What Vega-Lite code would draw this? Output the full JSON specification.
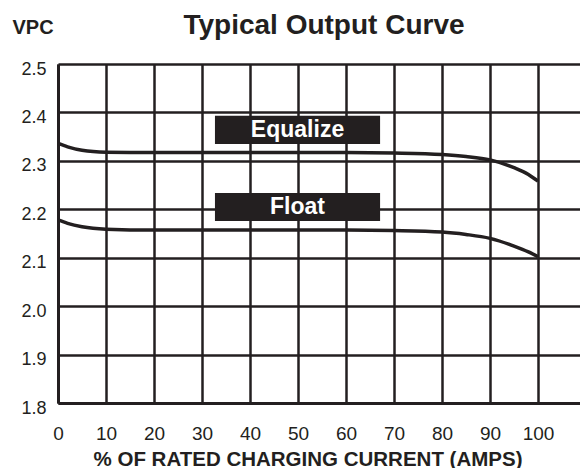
{
  "$schema": "https://vega.github.io/schema/vega-lite/v6.json",
  "width": 528,
  "height": 339,
  "autosize": {"type": "none"},
  "padding": {"left": 58, "top": 64, "right": 0, "bottom": 65},
  "background": "white",
  "title": {"text": "Typical Output Curve", "font": "Liberation Sans", "fontSize": 28, "fontWeight": "bold", "color": "#231f20", "anchor": "middle", "frame": "group", "baseline": "alphabetic", "offset": 0, "dx": 2, "dy": 45},
  "config": {"view": {"stroke": null}, "font": "Liberation Sans"},
  "datasets": {
    "curves": [
      {"series": "Equalize", "x": 0, "v": 2.336},
      {"series": "Equalize", "x": 2, "v": 2.329},
      {"series": "Equalize", "x": 5, "v": 2.322},
      {"series": "Equalize", "x": 10, "v": 2.318},
      {"series": "Equalize", "x": 20, "v": 2.317},
      {"series": "Equalize", "x": 40, "v": 2.317},
      {"series": "Equalize", "x": 60, "v": 2.317},
      {"series": "Equalize", "x": 70, "v": 2.316},
      {"series": "Equalize", "x": 80, "v": 2.313},
      {"series": "Equalize", "x": 85, "v": 2.309},
      {"series": "Equalize", "x": 90, "v": 2.302},
      {"series": "Equalize", "x": 95, "v": 2.286},
      {"series": "Equalize", "x": 98, "v": 2.272},
      {"series": "Equalize", "x": 100, "v": 2.258},
      {"series": "Float", "x": 0, "v": 2.178},
      {"series": "Float", "x": 2, "v": 2.171},
      {"series": "Float", "x": 5, "v": 2.164},
      {"series": "Float", "x": 10, "v": 2.159},
      {"series": "Float", "x": 20, "v": 2.157},
      {"series": "Float", "x": 40, "v": 2.157},
      {"series": "Float", "x": 60, "v": 2.157},
      {"series": "Float", "x": 70, "v": 2.156},
      {"series": "Float", "x": 80, "v": 2.153},
      {"series": "Float", "x": 85, "v": 2.148},
      {"series": "Float", "x": 90, "v": 2.140},
      {"series": "Float", "x": 95, "v": 2.124},
      {"series": "Float", "x": 98, "v": 2.112},
      {"series": "Float", "x": 100, "v": 2.102}
    ],
    "boxes": [
      {"label": "Equalize", "x": 32.7, "x2": 67.1, "v": 2.335, "v2": 2.393},
      {"label": "Float", "x": 32.7, "x2": 67.1, "v": 2.176, "v2": 2.2335}
    ],
    "labels": [
      {"label": "Equalize", "x": 49.9, "v": 2.364},
      {"label": "Float", "x": 49.9, "v": 2.205}
    ]
  },
  "encoding": {
    "x": {
      "field": "x", "type": "quantitative",
      "scale": {"domain": [0, 110], "nice": false, "zero": false},
      "axis": {
        "values": [0, 10, 20, 30, 40, 50, 60, 70, 80, 90, 100],
        "grid": true, "gridColor": "#231f20", "gridWidth": 2.5, "gridOpacity": 1,
        "domain": true, "domainColor": "#231f20", "domainWidth": 3,
        "ticks": false, "labelFlush": false, "labelOverlap": false,
        "labelFont": "Liberation Sans", "labelFontSize": 19, "labelColor": "#231f20",
        "labelPadding": 36, "labelBaseline": "alphabetic",
        "title": "% OF RATED CHARGING CURRENT (AMPS)",
        "titleFont": "Liberation Sans", "titleFontSize": 20.5, "titleFontWeight": "bold", "titleColor": "#231f20",
        "titleX": 249.5, "titleY": 62, "titleAlign": "center", "titleBaseline": "alphabetic"
      }
    },
    "y": {
      "field": "v", "type": "quantitative",
      "scale": {"domain": [1.8, 2.5], "nice": false, "zero": false},
      "axis": {
        "values": [1.8, 1.9, 2.0, 2.1, 2.2, 2.3, 2.4, 2.5],
        "format": ".1f",
        "grid": true, "gridColor": "#231f20", "gridWidth": 2.5, "gridOpacity": 1,
        "domain": true, "domainColor": "#231f20", "domainWidth": 3,
        "ticks": false, "labelFlush": false, "labelOverlap": false,
        "labelFont": "Liberation Sans", "labelFontSize": 18, "labelColor": "#231f20",
        "labelPadding": 12, "labelBaseline": "middle", "labelOffset": 5,
        "title": "VPC",
        "titleFont": "Liberation Sans", "titleFontSize": 20, "titleFontWeight": "bold", "titleColor": "#231f20",
        "titleAngle": 0, "titleX": -46, "titleY": -31, "titleAlign": "left", "titleBaseline": "alphabetic"
      }
    }
  },
  "layer": [
    {
      "data": {"name": "curves"},
      "mark": {"type": "line", "interpolate": "monotone", "color": "#231f20", "strokeWidth": 3.5},
      "encoding": {"detail": {"field": "series", "type": "nominal"}}
    },
    {
      "data": {"name": "boxes"},
      "mark": {"type": "rect", "fill": "#231f20"},
      "encoding": {
        "x2": {"field": "x2"},
        "y2": {"field": "v2"}
      }
    },
    {
      "data": {"name": "labels"},
      "mark": {"type": "text", "color": "white", "font": "Liberation Sans", "fontWeight": "bold", "fontSize": 23, "baseline": "middle", "align": "center"},
      "encoding": {"text": {"field": "label", "type": "nominal"}}
    }
  ]
}
